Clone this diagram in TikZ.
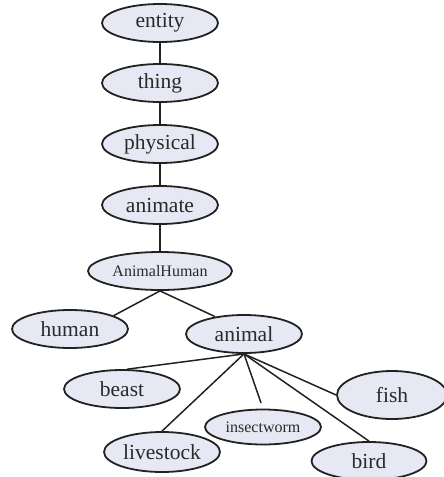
\documentclass[tikz,border=0pt]{standalone}
\usepackage{fontspec}
\setmainfont{Liberation Serif}
\usetikzlibrary{shapes.geometric}
\definecolor{nodefill}{HTML}{E6E9F3}
\definecolor{edgecol}{HTML}{222222}
\definecolor{txtcol}{HTML}{2A2A2A}
\tikzset{
  concept/.style={ellipse, draw=edgecol, line width=1.8pt, fill=nodefill,
    inner sep=0pt, minimum width=116pt, minimum height=38pt,
    text=txtcol, font=\fontsize{21.5}{24}\selectfont},
  smalltext/.style={font=\fontsize{16}{18}\selectfont},
  trunk/.style={draw=edgecol, line width=2.3pt},
  branch/.style={draw=edgecol, line width=1.5pt}
}
\begin{document}
\begin{tikzpicture}[x=1pt,y=-1pt]
\useasboundingbox (0,0) rectangle (444,477);
\clip (0,0) rectangle (444,477);
\node[concept] (entity) at (160,23) {entity};
\node[concept] (thing) at (160,83) {thing};
\node[concept] (physical) at (160,144) {physical};
\node[concept] (animate) at (160,205) {animate};
\node[concept, smalltext, minimum width=144pt] (animalhuman) at (160,271) {AnimalHuman};
\node[concept] (human) at (70,329) {human};
\node[concept] (animal) at (244,334) {animal};
\node[concept] (beast) at (122,389) {beast};
\node[concept, minimum width=110pt, minimum height=48pt] (fish) at (392,395) {fish};
\node[concept, smalltext, minimum height=35pt] (insectworm) at (263,427) {insectworm};
\node[concept, minimum height=40pt] (livestock) at (162,452) {livestock};
\node[concept, minimum width=115pt] (bird) at (369,461) {bird};
% edges
\draw[trunk] (entity) -- (thing);
\draw[trunk] (thing) -- (physical);
\draw[trunk] (physical) -- (animate);
\draw[trunk] (animate) -- (animalhuman);
\draw[branch] (animalhuman.south) -- (human.17);
\draw[branch] (animalhuman.south) -- (animal.149);
\draw[branch] (animal.south) -- (beast.75);
\draw[branch] (animal.south) -- (livestock.north);
\draw[branch, shorten >=6pt] (animal.south) -- (insectworm.north);
\draw[branch] (animal.south) -- (bird.north);
\draw[branch] (animal.south) -- (fish.west);
\end{tikzpicture}
\end{document}
